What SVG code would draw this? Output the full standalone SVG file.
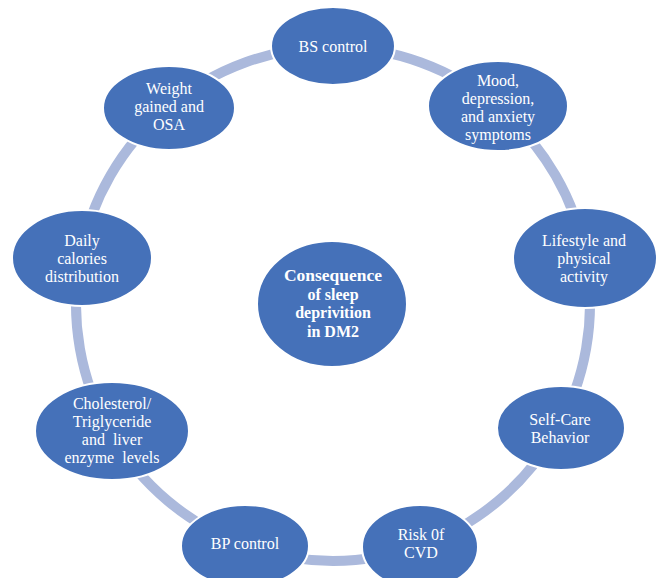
<svg xmlns="http://www.w3.org/2000/svg" width="660" height="578" viewBox="0 0 660 578">
  <style>
    .ring { fill: none; stroke: #abb9dc; stroke-width: 10; }
    .node ellipse { fill: #4571b9; stroke: #ffffff; stroke-width: 2; }
    .node text { fill: #ffffff; font-family: "Liberation Serif", "Times New Roman", serif; font-size: 16px; text-anchor: middle; }
    #hub text { font-weight: bold; font-size: 16px; }
  </style>
  <rect width="660" height="578" fill="#ffffff"/>

  <!-- circular ring linking the outer nodes -->
  <g id="connectors">
    <path class="ring" d="M333,47 A257,257 0 0 1 498.2,107.1"/>
    <path class="ring" d="M498.2,107.1 A257,257 0 0 1 586.1,259.4"/>
    <path class="ring" d="M586.1,259.4 A257,257 0 0 1 555.6,432.5"/>
    <path class="ring" d="M555.6,432.5 A257,257 0 0 1 420.9,545.5"/>
    <path class="ring" d="M420.9,545.5 A257,257 0 0 1 245.1,545.5"/>
    <path class="ring" d="M245.1,545.5 A257,257 0 0 1 110.4,432.5"/>
    <path class="ring" d="M110.4,432.5 A257,257 0 0 1 79.9,259.4"/>
    <path class="ring" d="M79.9,259.4 A257,257 0 0 1 167.8,107.1"/>
    <path class="ring" d="M167.8,107.1 A257,257 0 0 1 333,47"/>
  </g>

  <g id="hub" class="node">
    <ellipse cx="332" cy="304" rx="75" ry="63"/>
    <text x="333" y="281" textLength="98" lengthAdjust="spacingAndGlyphs">Consequence</text>
    <text x="333" y="299.5">of sleep</text>
    <text x="333" y="318">deprivition</text>
    <text x="333" y="336.5">in DM2</text>
  </g>

  <g id="bs-control" class="node">
    <ellipse cx="333" cy="46" rx="62" ry="39"/>
    <text x="333" y="52">BS control</text>
  </g>

  <g id="mood" class="node">
    <ellipse cx="498" cy="106" rx="70" ry="45"/>
    <text x="498" y="86">Mood,</text>
    <text x="498" y="104">depression,</text>
    <text x="498" y="122">and anxiety</text>
    <text x="498" y="140">symptoms</text>
  </g>

  <g id="lifestyle" class="node">
    <ellipse cx="585" cy="258" rx="72" ry="50"/>
    <text x="584" y="246">Lifestyle and</text>
    <text x="584" y="264">physical</text>
    <text x="584" y="282">activity</text>
  </g>

  <g id="self-care" class="node">
    <ellipse cx="561" cy="428" rx="64" ry="42"/>
    <text x="560" y="425">Self-Care</text>
    <text x="560" y="443">Behavior</text>
  </g>

  <g id="risk-cvd" class="node">
    <ellipse cx="420" cy="547" rx="58" ry="42"/>
    <text x="421" y="540">Risk 0f</text>
    <text x="421" y="558">CVD</text>
  </g>

  <g id="bp-control" class="node">
    <ellipse cx="245" cy="546" rx="64" ry="41"/>
    <text x="245" y="549">BP control</text>
  </g>

  <g id="lipids" class="node">
    <ellipse cx="112" cy="431" rx="77" ry="49"/>
    <text x="112" y="409">Cholesterol/</text>
    <text x="112" y="427">Triglyceride</text>
    <text x="112" y="445" word-spacing="4">and liver</text>
    <text x="112" y="463" word-spacing="4">enzyme levels</text>
  </g>

  <g id="calories" class="node">
    <ellipse cx="82" cy="258" rx="70" ry="48"/>
    <text x="82" y="246">Daily</text>
    <text x="82" y="264">calories</text>
    <text x="82" y="282">distribution</text>
  </g>

  <g id="weight" class="node">
    <ellipse cx="169" cy="108" rx="66" ry="42"/>
    <text x="169" y="94">Weight</text>
    <text x="169" y="112">gained and</text>
    <text x="169" y="130">OSA</text>
  </g>
</svg>
